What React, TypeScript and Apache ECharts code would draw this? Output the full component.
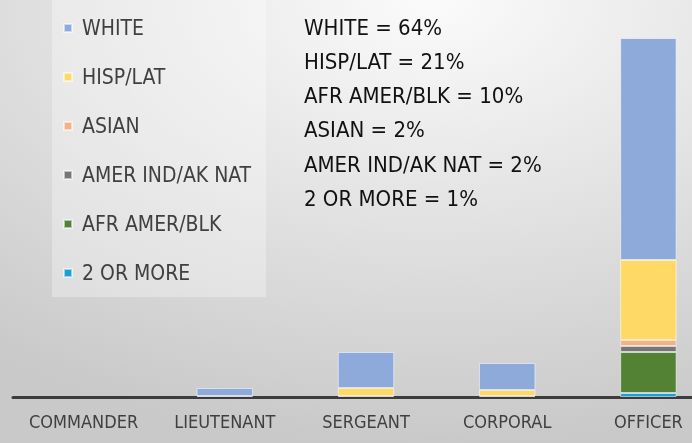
import React, { useEffect, useRef } from "react";
import * as echarts from "echarts";

const categories = ["COMMANDER", "LIEUTENANT", "SERGEANT", "CORPORAL", "OFFICER"];
const legendOrder = ["WHITE", "HISP/LAT", "ASIAN", "AMER IND/AK NAT", "AFR AMER/BLK", "2 OR MORE"];

// stacked bottom -> top
const twoOrMore = [0, 0, 0, 0, 4];
const afrAmerBlk = [0, 0, 1, 1, 41];
const amerIndAkNat = [0, 0, 0, 0, 6];
const asian = [0, 0, 0, 0, 6];
const hispLat = [0, 1, 8, 6, 80];
const white = [0, 8, 36, 27, 222];

const annotations = [
  "WHITE = 64%",
  "HISP/LAT = 21%",
  "AFR AMER/BLK = 10%",
  "ASIAN = 2%",
  "AMER IND/AK NAT = 2%",
  "2 OR MORE = 1%",
];

const FONT = "'Liberation Sans Narrow', 'DejaVu Sans Condensed', 'Liberation Sans', sans-serif";

export default function App() {
  const ref = useRef<HTMLDivElement>(null);
  useEffect(() => {
    if (!ref.current) return;
    const chart = echarts.init(ref.current, null, { renderer: "svg" });
    const mk = (name: string, data: number[], color: string) => ({
      name,
      type: "bar",
      stack: "total",
      data: data.map((v) => (v === 0 ? null : v)),
      barWidth: "40%",
      itemStyle: { color, borderColor: "rgba(255,255,255,0.55)", borderWidth: 1 },
    });
    chart.setOption({
      animation: false,
      backgroundColor: {
        type: "radial",
        x: 0.6,
        y: 0,
        r: 1.0,
        colorStops: [
          { offset: 0, color: "#fbfbfb" },
          { offset: 1, color: "#c9c9c9" },
        ],
      },
      textStyle: { fontFamily: FONT },
      grid: { left: 13, right: 2, top: 37, bottom: 46 },
      xAxis: {
        type: "category",
        data: categories,
        axisLine: { lineStyle: { color: "#3c3c3c", width: 3 } },
        axisTick: { show: false },
        axisLabel: { color: "#404040", fontSize: 18, margin: 15, interval: 0, hideOverlap: false, fontFamily: FONT },
      },
      yAxis: { type: "value", min: 0, max: 360, show: false },
      legend: {
        orient: "vertical",
        left: 63,
        top: 16,
        padding: 0,
        itemGap: 25,
        itemWidth: 8,
        itemHeight: 8,
        icon: "rect",
        data: legendOrder,
        textStyle: { color: "#404040", fontSize: 21, lineHeight: 24, padding: [0, 0, 0, 5], fontFamily: FONT },
      },
      graphic: [
        {
          type: "rect",
          left: 52,
          top: 0,
          z: -1,
          shape: { width: 214, height: 297 },
          style: { fill: "rgba(255,255,255,0.3)" },
          silent: true,
        },
        ...annotations.map((t, i) => ({
          type: "text",
          left: 304,
          top: 16 + i * 34.3,
          style: { text: t, fill: "#111111", fontSize: 22, fontFamily: FONT },
        })),
      ],
      series: [
        mk("2 OR MORE", twoOrMore, "#1a9fd6"),
        mk("AFR AMER/BLK", afrAmerBlk, "#548235"),
        mk("AMER IND/AK NAT", amerIndAkNat, "#767676"),
        mk("ASIAN", asian, "#f4b183"),
        mk("HISP/LAT", hispLat, "#ffd966"),
        mk("WHITE", white, "#8eaadb"),
      ],
    });
    return () => chart.dispose();
  }, []);
  return (
    <div style={{ position: "fixed", left: 0, top: 0, width: 692, height: 443, overflow: "hidden" }}>
      <div ref={ref} style={{ width: 721, height: 443 }} />
    </div>
  );
}
